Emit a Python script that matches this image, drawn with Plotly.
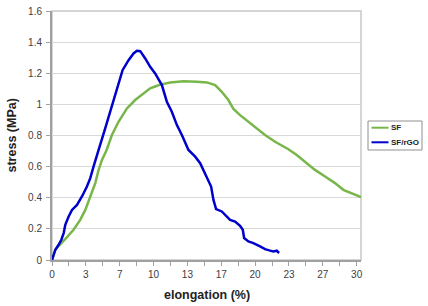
import plotly.graph_objects as go

SERIES_NAMES = ["SF", "SF/rGO"]
SERIES_COLORS = ["#78b64a", "#0000cc"]

SF_X = [0, 0.33, 0.48, 0.98, 1.48, 2.12, 2.78, 3.28, 3.77, 4.26, 4.59, 4.92, 5.38, 5.9, 6.55,
        7.38, 8.19, 9.18, 9.67, 10.16, 10.65, 11.64, 12.95, 14.26, 15.25, 16.07, 16.72, 17.37,
        17.87, 18.52, 19.51, 20.2, 20.98, 21.97, 23.28, 24.1, 24.92, 25.9, 26.89, 27.87, 28.69,
        29.51, 30.43]
SF_Y = [0, 0.066, 0.077, 0.109, 0.147, 0.194, 0.258, 0.322, 0.408, 0.494, 0.579, 0.643, 0.707,
        0.803, 0.888, 0.974, 1.028, 1.081, 1.103, 1.115, 1.127, 1.141, 1.149, 1.145, 1.141,
        1.124, 1.081, 1.028, 0.97, 0.931, 0.878, 0.84, 0.803, 0.76, 0.712, 0.675, 0.632, 0.579,
        0.536, 0.494, 0.451, 0.429, 0.404]

RGO_X = [0, 0.33, 0.65, 0.92, 1.15, 1.31, 1.64, 1.97, 2.46, 2.95, 3.44, 3.77, 4.09, 4.43, 4.59,
         5.24, 5.9, 6.39, 6.95, 7.54, 8.03, 8.36, 8.69, 9.18, 9.67, 10.16, 10.33, 10.82, 11.31,
         11.8, 12.3, 12.79, 13.44, 14.1, 14.59, 14.92, 15.25, 15.67, 15.9, 16.16, 16.72, 17.05,
         17.54, 18.03, 18.52, 18.79, 18.92, 19.34, 19.83, 20.49, 20.98, 21.48, 21.8, 22.13, 22.36]
RGO_Y = [0, 0.066, 0.098, 0.13, 0.173, 0.226, 0.28, 0.322, 0.354, 0.408, 0.472, 0.526, 0.6,
         0.664, 0.707, 0.846, 0.985, 1.103, 1.22, 1.284, 1.327, 1.344, 1.342, 1.295, 1.241,
         1.199, 1.177, 1.124, 1.017, 0.953, 0.867, 0.803, 0.707, 0.664, 0.622, 0.579, 0.536,
         0.472, 0.386, 0.327, 0.312, 0.29, 0.258, 0.247, 0.22, 0.194, 0.141, 0.119, 0.109,
         0.087, 0.07, 0.06, 0.055, 0.06, 0.045]

X_TICK_LABELS = ["0", "3", "7", "10", "13", "17", "20", "23", "27", "30"]
Y_TICK_VALUES = [0, 0.2, 0.4, 0.6, 0.8, 1.0, 1.2, 1.4, 1.6]
Y_TICK_LABELS = ["0", "0.2", "0.4", "0.6", "0.8", "1", "1.2", "1.4", "1.6"]
X_TITLE = "elongation (%)"
Y_TITLE = "stress (MPa)"
X_MAX = 30.43
Y_MAX = 1.6

FONT = "Arial, Liberation Sans, sans-serif"
AXIS_GRAY = "#a0a0a0"

fig = go.Figure()
for name, color, xs, ys in zip(SERIES_NAMES, SERIES_COLORS, [SF_X, RGO_X], [SF_Y, RGO_Y]):
    fig.add_trace(go.Scatter(x=xs, y=ys, mode="lines", name=name,
                             line=dict(color=color, width=2.5), showlegend=False))

step = 30 / (len(X_TICK_LABELS) - 1)
fig.update_xaxes(
    range=[0, X_MAX], tickmode="array",
    tickvals=[i * step for i in range(len(X_TICK_LABELS))], ticktext=X_TICK_LABELS,
    ticks="outside", ticklen=4, tickcolor=AXIS_GRAY, tickwidth=1,
    minor=dict(tickmode="linear", tick0=0, dtick=step / 2, ticks="outside", ticklen=4,
               tickcolor=AXIS_GRAY, tickwidth=1, showgrid=False),
    showline=True, linecolor=AXIS_GRAY, linewidth=2, showgrid=False, zeroline=False,
    tickfont=dict(family=FONT, size=10, color="#404040"),
    automargin=False,
)
fig.update_yaxes(
    range=[0, Y_MAX], tickmode="array", tickvals=Y_TICK_VALUES, ticktext=Y_TICK_LABELS,
    ticks="outside", ticklen=4, tickcolor=AXIS_GRAY, tickwidth=1, ticklabelstandoff=2,
    showline=True, linecolor=AXIS_GRAY, linewidth=2,
    showgrid=True, gridcolor="#d9d9d9", gridwidth=1, zeroline=False,
    tickfont=dict(family=FONT, size=10, color="#404040"),
    automargin=False,
)

W = 428; H = 306
L = 52; PW = 309; B = 260; PH = 249   # page pixels of the plot area
def px(xp):
    return (xp - L) / PW
def py(yp):
    return (B - yp) / PH

shapes = [dict(type="rect", xref="paper", yref="paper", x0=0, x1=1, y0=0, y1=1,
               line=dict(color="#c8c8c8", width=1.5), layer="below")]

shapes.append(dict(type="rect", xref="paper", yref="paper", x0=px(368), x1=px(422),
                   y0=py(150), y1=py(121), line=dict(color="#909090", width=1),
                   fillcolor="white"))
annotations = []
for i, (name, color) in enumerate(zip(SERIES_NAMES, SERIES_COLORS)):
    yy = py(127.7 + i * 14.6)
    shapes.append(dict(type="line", xref="paper", yref="paper", x0=px(371.5), x1=px(388.5),
                       y0=yy, y1=yy, line=dict(color=color, width=2)))
    annotations.append(dict(xref="paper", yref="paper", x=px(389), y=yy, xanchor="left",
                            yanchor="middle", showarrow=False, text="<b>%s</b>" % name,
                            font=dict(family=FONT, size=8, color="#222")))

annotations.append(dict(xref="paper", yref="paper", x=px(207), y=py(295), xanchor="center",
                        yanchor="middle", showarrow=False, text="<b>%s</b>" % X_TITLE,
                        font=dict(family=FONT, size=12.5, color="#222")))
annotations.append(dict(xref="paper", yref="paper", x=px(11), y=py(135.5), xanchor="center",
                        yanchor="middle", showarrow=False, text="<b>%s</b>" % Y_TITLE,
                        textangle=-90, font=dict(family=FONT, size=12.5, color="#222")))

fig.update_layout(
    width=W, height=H,
    margin=dict(l=L, r=W - L - PW, t=B - PH, b=H - B),
    paper_bgcolor="white", plot_bgcolor="white",
    shapes=shapes, annotations=annotations, showlegend=False,
)

fig.write_html("out.html", config={"displayModeBar": False},
               post_script="document.body.style.margin='0';")
